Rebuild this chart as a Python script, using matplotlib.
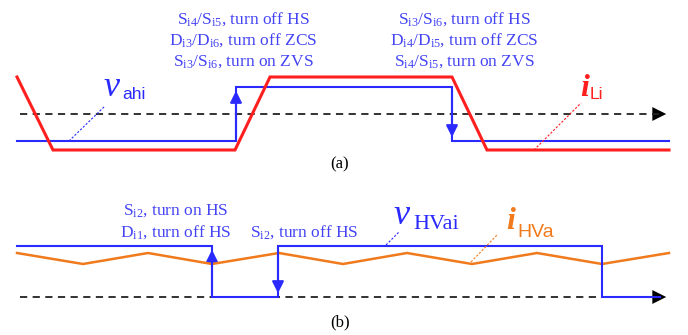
import matplotlib
matplotlib.use("Agg")
import matplotlib.pyplot as plt
from matplotlib.patches import FancyArrowPatch

plt.rcParams['mathtext.fontset'] = 'custom'
plt.rcParams['mathtext.rm'] = 'Liberation Serif'
plt.rcParams['mathtext.it'] = 'Liberation Serif:italic'
plt.rcParams['mathtext.sf'] = 'Liberation Sans'

# ---------------- data (pixel-like units) -------------
# panel (a)
iLi_t = [17, 53, 235, 270, 452, 487, 669]
iLi_v = [77, 150, 150, 77, 77, 150, 150]
vahi_t = [17, 236, 236, 452, 452, 669]
vahi_v = [141, 141, 87, 87, 141, 141]
axis_a_y = 114
# panel (b)
vHV_t = [17, 212, 212, 278, 278, 602, 602, 660]
vHV_v = [246, 246, 297, 297, 246, 246, 297, 297]
iHV_t = [17, 83, 148, 212, 279, 343, 407, 472, 537, 602, 669]
iHV_v = [253, 264, 253, 264, 253, 264, 253, 264, 253, 264, 253]
axis_b_y = 297
x_start, x_end = 20, 669

ann_a1 = [r"S$_{\rm i4}$/S$_{\rm i5}$, turn off HS",
          r"D$_{\rm i3}$/D$_{\rm i6}$, turn off ZCS",
          r"S$_{\rm i3}$/S$_{\rm i6}$, turn on ZVS"]
ann_a2 = [r"S$_{\rm i3}$/S$_{\rm i6}$, turn off HS",
          r"D$_{\rm i4}$/D$_{\rm i5}$, turn off ZCS",
          r"S$_{\rm i4}$/S$_{\rm i5}$, turn on ZVS"]
ann_b1 = [r"S$_{\rm i2}$, turn on HS",
          r"D$_{\rm i1}$, turn off HS"]
ann_b2 = r"S$_{\rm i2}$, turn off HS"

BLUE = '#2a2aff'
TBLUE = '#4444f5'
RED = '#ff1f1f'
ORANGE = '#f07a1c'
SERIF = 'Liberation Serif'
SANS = 'Liberation Sans'

fig = plt.figure(figsize=(6.88, 3.35), dpi=100)
ax = fig.add_axes([0, 0, 1, 1])
ax.set_xlim(0, 688)
ax.set_ylim(335, 0)
ax.axis('off')

def axis_arrow(y):
    ax.plot([x_start, x_end - 10], [y, y], color='#222222', lw=1.3,
            linestyle=(0, (4, 3)))
    ax.add_patch(FancyArrowPatch((x_end - 16, y), (x_end, y),
                                 arrowstyle='-|>,head_length=10,head_width=5',
                                 mutation_scale=1, color='black', lw=0))

def v_arrow(x, y0, y1):
    ax.add_patch(FancyArrowPatch((x, y0), (x, y1),
                                 arrowstyle='-|>,head_length=7,head_width=3.5',
                                 mutation_scale=1, color=BLUE, lw=1.5))

# ---------------- panel (a) ----------------
axis_arrow(axis_a_y)
ax.plot(vahi_t, vahi_v, color=BLUE, lw=1.5, solid_joinstyle='miter')
ax.plot(iLi_t, iLi_v, color=RED, lw=2.2, solid_joinstyle='miter')
v_arrow(vahi_t[1], vahi_v[1], vahi_v[2] + 1)
v_arrow(vahi_t[3], vahi_v[3], vahi_v[4] - 1)

for i, s in enumerate(ann_a1):
    ax.text(243, 24 + 21 * i, s, color=TBLUE, fontsize=12.5, family=SERIF,
            ha='center', va='baseline')
for i, s in enumerate(ann_a2):
    ax.text(464, 24 + 21 * i, s, color=TBLUE, fontsize=12.5, family=SERIF,
            ha='center', va='baseline')

# v_ahi label
ax.plot([69, 105], [141, 106], color=BLUE, lw=0.8, linestyle=(0, (2, 1.5)))
ax.text(103, 96, 'v', color=BLUE, fontsize=26, family=SERIF, style='italic',
        va='baseline')
ax.text(122, 99, 'ahi', color=BLUE, fontsize=12.5, family=SANS, va='baseline')
# i_Li label
ax.plot([534, 581], [150, 103], color=RED, lw=0.8, linestyle=(0, (2, 1.5)))
ax.text(580, 96, 'i', color=RED, fontsize=23, family=SERIF, style='italic',
        weight='bold', va='baseline')
ax.text(590, 99, 'Li', color=RED, fontsize=12.5, family=SANS, va='baseline')

ax.text(340, 164, '(a)', fontsize=12, family=SERIF, ha='center', va='center')

# ---------------- panel (b) ----------------
axis_arrow(axis_b_y)
ax.plot(iHV_t, iHV_v, color=ORANGE, lw=1.8)
ax.plot(vHV_t, vHV_v, color=BLUE, lw=1.5, solid_joinstyle='miter')
v_arrow(vHV_t[1], vHV_v[2], vHV_v[1] + 1)
v_arrow(vHV_t[3], vHV_v[4], vHV_v[3] - 1)

for i, s in enumerate(ann_b1):
    ax.text(176, 215 + 22 * i, s, color=TBLUE, fontsize=12.5, family=SERIF,
            ha='center', va='baseline')
ax.text(250, 237, ann_b2, color=TBLUE, fontsize=12.5, family=SERIF,
        ha='left', va='baseline')

# v_HVai label
ax.plot([386, 399], [245, 232], color=BLUE, lw=0.8, linestyle=(0, (2, 1.5)))
ax.text(394, 224, 'v', color=BLUE, fontsize=26, family=SERIF, style='italic',
        va='baseline')
ax.text(413, 229, 'HVai', color=BLUE, fontsize=16, family=SERIF, va='baseline')
# i_HVa label
ax.plot([471, 497], [262, 235], color=ORANGE, lw=0.8, linestyle=(0, (2, 1.5)))
ax.text(506, 229, 'i', color=ORANGE, fontsize=23, family=SERIF, style='italic',
        weight='bold', va='baseline')
ax.text(517, 237, 'HVa', color=ORANGE, fontsize=14, family=SANS, va='baseline')

ax.text(340, 322, '(b)', fontsize=12, family=SERIF, ha='center', va='center')

fig.savefig('out.png', dpi=100)
